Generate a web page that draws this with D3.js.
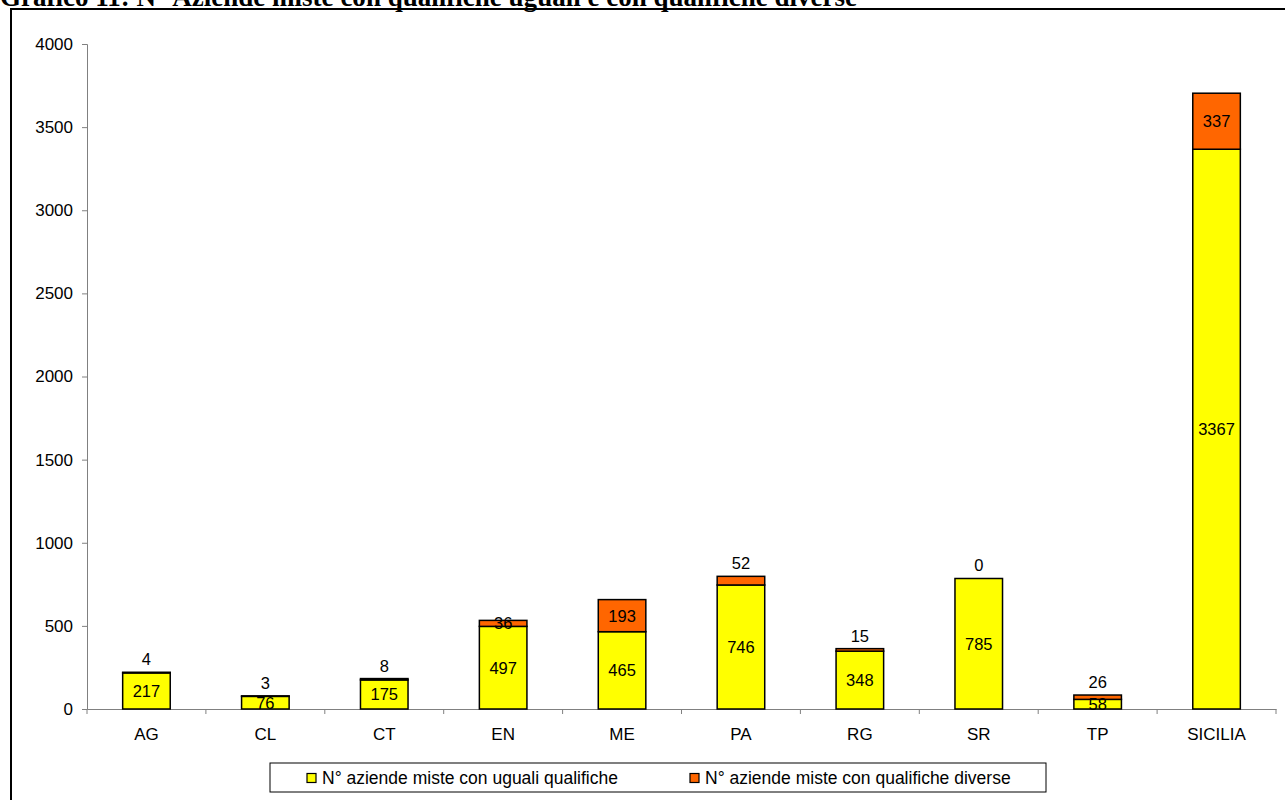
<!DOCTYPE html>
<html><head><meta charset="utf-8">
<script src="https://cdn.jsdelivr.net/npm/d3@7"></script>
<style>body{margin:0;background:#fff;overflow:hidden}svg{display:block}</style>
</head><body>
<svg id="c" width="1285" height="800"></svg>
<script>
const categories = ["AG","CL","CT","EN","ME","PA","RG","SR","TP","SICILIA"];
const uguali = [217,76,175,497,465,746,348,785,58,3367];
const diverse = [4,3,8,36,193,52,15,0,26,337];
const diverseLabelInside = [false,false,false,true,true,false,false,false,false,true];
const yTicks = [0,500,1000,1500,2000,2500,3000,3500,4000];
const seriesNames = ["N° aziende miste con uguali qualifiche","N° aziende miste con qualifiche diverse"];
const colors = ["#FFFF00","#FF6600"];
const titleText = "Grafico 11: N° Aziende miste con qualifiche uguali e con qualifiche diverse";

const svg = d3.select("#c");
const font = "'Liberation Sans', Arial, sans-serif";

// title (clipped at top)
svg.append("text").attr("x",0).attr("y",6)
  .attr("font-family","'Liberation Serif','Times New Roman',serif")
  .attr("font-weight","bold").attr("font-size",27).attr("fill","#000")
  .attr("textLength",857).attr("lengthAdjust","spacingAndGlyphs")
  .text(titleText);

// frame
svg.append("path").attr("d","M11,812 L11,9 L1300,9")
  .attr("fill","none").attr("stroke","#000").attr("stroke-width",2);

const x = d3.scaleBand().domain(categories).range([87,1276]).paddingInner(0.6).paddingOuter(0.3);
const y = d3.scaleLinear().domain([0,4000]).range([709,44]);
const axisColor = "#808080";

// y axis
const ya = svg.append("g").attr("transform","translate(87,0)")
  .call(d3.axisLeft(y).tickValues(yTicks).tickSize(5).tickPadding(9).tickFormat(d3.format("d")));
ya.select(".domain").attr("stroke",axisColor);
ya.selectAll(".tick line").attr("stroke",axisColor);
ya.selectAll("text").attr("font-family",font).attr("font-size",17).attr("fill","#000");

// x axis: baseline and boundary ticks
const step = x.step();
const xa = svg.append("g").attr("transform","translate(0,709)")
  .call(d3.axisBottom(x).tickSize(0).tickPadding(19));
xa.select(".domain").attr("stroke",axisColor);
xa.selectAll("text").attr("font-family",font).attr("font-size",17).attr("fill","#000");
const bounds = d3.range(categories.length+1).map(i => x.range()[0] + i*step);
svg.append("g").selectAll("line").data(bounds).join("line")
  .attr("x1",d=>d).attr("x2",d=>d).attr("y1",709).attr("y2",714)
  .attr("stroke",axisColor).attr("stroke-width",1);

// stacked bars
const rows = categories.map((c,i)=>({c, u:uguali[i], d:diverse[i], inside:diverseLabelInside[i]}));
const g = svg.append("g");
rows.forEach(r=>{
  const bx = x(r.c), bw = x.bandwidth();
  g.append("rect").attr("x",bx).attr("width",bw)
    .attr("y",y(r.u)).attr("height",y(0)-y(r.u))
    .attr("fill",colors[0]).attr("stroke","#000").attr("stroke-width",1.5);
  if (r.d>0) {
    g.append("rect").attr("x",bx).attr("width",bw)
      .attr("y",y(r.u+r.d)).attr("height",y(r.u)-y(r.u+r.d))
      .attr("fill",colors[1]).attr("stroke","#000").attr("stroke-width",1.5);
  }
  const cx = bx+bw/2;
  g.append("text").attr("x",cx).attr("y",(y(0)+y(r.u))/2).attr("dy","0.36em")
    .attr("text-anchor","middle").attr("font-family",font).attr("font-size",16.5).text(r.u);
  const ly = r.inside ? (y(r.u)+y(r.u+r.d))/2 : y(r.u+r.d)-13;
  g.append("text").attr("x",cx).attr("y",ly).attr("dy","0.36em")
    .attr("text-anchor","middle").attr("font-family",font).attr("font-size",16.5).text(r.d);
});

// legend
const lg = svg.append("g");
lg.append("rect").attr("x",270).attr("y",763).attr("width",776).attr("height",29)
  .attr("fill","#fff").attr("stroke","#000").attr("stroke-width",1);
const lx = [307,690];
seriesNames.forEach((n,i)=>{
  lg.append("rect").attr("x",lx[i]).attr("y",773.5).attr("width",9).attr("height",9)
    .attr("fill",colors[i]).attr("stroke","#000").attr("stroke-width",1.2);
  lg.append("text").attr("x",lx[i]+15).attr("y",783.5)
    .attr("font-family",font).attr("font-size",17.5).text(n);
});
</script>
</body></html>
